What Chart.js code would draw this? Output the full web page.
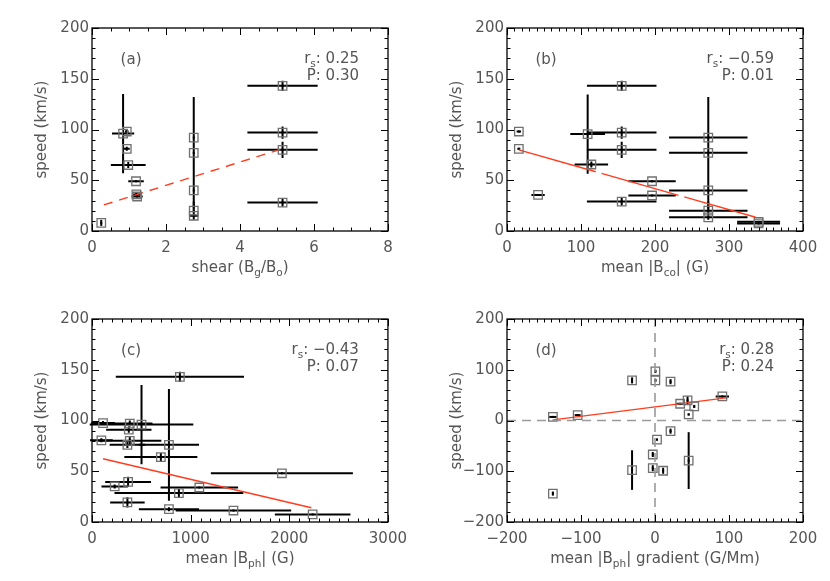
<!DOCTYPE html>
<html>
<head>
<meta charset="utf-8">
<script src="https://cdn.jsdelivr.net/npm/chart.js@4.4.1/dist/chart.umd.min.js"></script>
<style>
  body { margin: 0; background: #fff; width: 830px; height: 581px; position: relative; overflow: hidden; }
  canvas { position: absolute; }
</style>
</head>
<body>
<canvas id="panelA" width="415" height="290" style="left:0;top:0"></canvas>
<canvas id="panelB" width="415" height="290" style="left:415px;top:0"></canvas>
<canvas id="panelC" width="415" height="291" style="left:0;top:290px"></canvas>
<canvas id="panelD" width="415" height="291" style="left:415px;top:290px"></canvas>
<script>
// (a) speed vs shear
var shearX = [0.25, 0.84, 0.94, 0.94, 0.98, 1.19, 1.2, 1.22, 2.75, 2.75, 2.75, 2.75, 2.75, 5.15, 5.15, 5.15, 5.15];
var shearSpeed = [8, 96, 98, 81, 65, 49, 36, 34, 92, 77, 40, 20, 15, 143, 97, 80, 28];
var shearXErr = [0, 0.3, 0.05, 0.08, 0.47, 0.21, 0.1, 0.15, 0, 0, 0, 0, 0.12, 0.95, 0.95, 0.95, 0.95];
var shearSpeedErr = [3, 39, 2, 2, 3, 0, 2, 1, 0, 55, 0, 9, 0, 5, 6, 8, 4];
var shearFitX = [0.32, 5.14];
var shearFitY = [25.7, 81];

// (b) speed vs mean |Bco|
var bcoX = [16, 16, 42, 109, 114, 155, 155, 155, 155, 196, 196, 272, 272, 272, 272, 272, 340, 340];
var bcoSpeed = [98, 81, 35.5, 95.5, 65.5, 143, 97, 80, 29, 49, 35, 92, 77, 40, 20, 13.5, 9, 7.5];
var bcoXErr = [3, 2, 9, 23.5, 22.6, 47, 47, 47, 47, 32, 32, 53, 53, 53, 53, 53, 29, 29];
var bcoSpeedErr = [1, 1, 1, 39, 3, 5, 6, 8, 4, 0, 0, 0, 55, 0, 9, 0, 0, 0];
var bcoFitX = [16, 336];
var bcoFitY = [80, 13.5];

// (c) speed vs mean |Bph|
var bphX = [112, 95, 891, 383, 502, 373, 383, 359, 780, 698, 1925, 366, 230, 1088, 881, 359, 780, 1434, 2237];
var bphSpeed = [97.5, 80.5, 143, 97, 96, 91, 80, 76, 76, 64, 48, 39.5, 35, 34, 28.5, 19.3, 12.6, 11.3, 7.5];
var bphXErr = [120, 115, 650, 230, 525, 230, 320, 180, 305, 370, 720, 232, 134, 393, 653, 175, 305, 585, 383];
var bphSpeedErr = [2, 2, 5, 3, 39, 3, 4, 3, 55, 4, 0, 5, 2, 0, 4, 5, 2, 0, 0];
var bphFitX = [112, 2224];
var bphFitY = [62.3, 14];

// (d) speed vs mean |Bph| gradient
var gradX = [-138, -104.5, -31, 0.5, 0.5, 21, 34, 44, 53, 45.5, 91, 21, 2.7, -3, -3, 11, -31, 45.5, -138];
var gradSpeed = [7, 10.6, 79, 97, 79, 76.5, 33, 39.6, 27.7, 11.9, 47.5, -21, -37.6, -67, -94, -99, -97.7, -79, -144];
var gradXErr = [5, 4, 0, 0, 0, 0, 5, 0, 0, 0, 9, 0, 0, 0, 0, 0, 0, 0, 0];
var gradSpeedErr = [0, 0, 6, 3, 3, 5, 0, 8, 3, 2, 2, 5, 2, 5, 6, 6, 39, 56, 4];
var gradFitX = [-138, 98.6];
var gradFitY = [1.3, 45];
var zeroSpan = [-200, 200];

var FONT = '"DejaVu Sans", sans-serif';
var TEXT = "#555";

// draws text made of [string, isSubscript] pieces
function drawRich(ctx, parts, x, y, align, size) {
  var w = 0;
  parts.forEach(function (p) {
    ctx.font = (p[1] ? size * 0.7 : size) + "px " + FONT;
    w += ctx.measureText(p[0]).width;
  });
  var cx = align === "center" ? x - w / 2 : align === "right" ? x - w : x;
  ctx.textAlign = "left";
  ctx.textBaseline = "middle";
  parts.forEach(function (p) {
    ctx.font = (p[1] ? size * 0.7 : size) + "px " + FONT;
    ctx.fillText(p[0], cx, p[1] ? y + size * 0.32 : y);
    cx += ctx.measureText(p[0]).width;
  });
}

function minus(v) {
  return String(v).replace("-", "\u2212");
}

function makePanel(id, p) {
  var canvas = document.getElementById(id);
  var H = canvas.height;
  var points = p.x.map(function (x, i) { return { x: x, y: p.y[i] }; });
  var datasets = [];

  if (p.zeroLines) {
    datasets.push({
      data: [{ x: 0, y: zeroSpan[0] }, { x: 0, y: zeroSpan[1] }],
      showLine: true, borderColor: "#9a9a9a", borderWidth: 1.6, borderDash: [9, 6], pointRadius: 0
    });
    datasets.push({
      data: [{ x: zeroSpan[0], y: 0 }, { x: zeroSpan[1], y: 0 }],
      showLine: true, borderColor: "#9a9a9a", borderWidth: 1.6, borderDash: [9, 6], pointRadius: 0
    });
  }
  datasets.push({
    data: points,
    pointStyle: "rect", pointRadius: 6, pointBorderColor: "#707070", pointBorderWidth: 1.3,
    pointBackgroundColor: "rgba(0,0,0,0)"
  });
  datasets.push({
    data: p.fitX.map(function (x, i) { return { x: x, y: p.fitY[i] }; }),
    showLine: true, borderColor: "#ff3c1e", borderWidth: 1.4, borderDash: p.fitDash || [], pointRadius: 0
  });

  var panelPlugin = {
    id: "panel_" + id,
    beforeDatasetsDraw: function (chart) {
      var ctx = chart.ctx, xs = chart.scales.x, ys = chart.scales.y;
      ctx.save();
      ctx.strokeStyle = "#000";
      ctx.lineWidth = 2;
      p.x.forEach(function (x, i) {
        var px = xs.getPixelForValue(x), py = ys.getPixelForValue(p.y[i]);
        ctx.beginPath();
        if (p.xErr[i]) {
          ctx.moveTo(xs.getPixelForValue(x - p.xErr[i]), py);
          ctx.lineTo(xs.getPixelForValue(x + p.xErr[i]), py);
        }
        if (p.yErr[i]) {
          ctx.moveTo(px, ys.getPixelForValue(p.y[i] - p.yErr[i]));
          ctx.lineTo(px, ys.getPixelForValue(p.y[i] + p.yErr[i]));
        }
        ctx.stroke();
        // small centre mark
        ctx.fillStyle = "#000";
        ctx.fillRect(px - 1, py - 1, 2, 2);
      });
      ctx.restore();
    },
    afterDraw: function (chart) {
      var ctx = chart.ctx, a = chart.chartArea, xs = chart.scales.x, ys = chart.scales.y;
      var w = a.right - a.left, h = a.bottom - a.top;
      ctx.save();
      ctx.strokeStyle = "#000";
      ctx.lineWidth = 1.3;
      ctx.strokeRect(a.left, a.top, w, h);

      // inward ticks on all four sides
      ctx.lineWidth = 1;
      ctx.beginPath();
      var n = Math.round((p.xMax - p.xMin) / p.xMinor);
      for (var i = 0; i <= n; i++) {
        var v = p.xMin + i * p.xMinor;
        var major = Math.abs(v / p.xStep - Math.round(v / p.xStep)) < 1e-6;
        var len = major ? 7 : 3.5;
        var px = Math.round(xs.getPixelForValue(v)) + 0.5;
        ctx.moveTo(px, a.bottom); ctx.lineTo(px, a.bottom - len);
        ctx.moveTo(px, a.top); ctx.lineTo(px, a.top + len);
      }
      n = Math.round((p.yMax - p.yMin) / p.yMinor);
      for (i = 0; i <= n; i++) {
        v = p.yMin + i * p.yMinor;
        major = Math.abs(v / p.yStep - Math.round(v / p.yStep)) < 1e-6;
        len = major ? 7 : 3.5;
        var py = Math.round(ys.getPixelForValue(v)) + 0.5;
        ctx.moveTo(a.left, py); ctx.lineTo(a.left + len, py);
        ctx.moveTo(a.right, py); ctx.lineTo(a.right - len, py);
      }
      ctx.stroke();

      ctx.fillStyle = TEXT;
      drawRich(ctx, [[p.tag, 0]], a.left + 0.132 * w, a.top + 0.158 * h, "center", 15);
      drawRich(ctx, [["r", 0], ["s", 1], [": " + minus(p.rs), 0]], a.left + 0.902 * w, a.top + 0.153 * h, "right", 15);
      drawRich(ctx, [["P: " + p.pval, 0]], a.left + 0.902 * w, a.top + 0.236 * h, "right", 15);
      drawRich(ctx, p.xTitle, (a.left + a.right) / 2, a.bottom + 37, "center", 15);

      ctx.save();
      ctx.translate(a.left - 50, (a.top + a.bottom) / 2);
      ctx.rotate(-Math.PI / 2);
      drawRich(ctx, [["speed (km/s)", 0]], 0, 0, "center", 15);
      ctx.restore();
      ctx.restore();
    }
  };

  var tickFont = { family: FONT, size: 15 };
  new Chart(canvas, {
    type: "scatter",
    data: { datasets: datasets },
    options: {
      responsive: false,
      animation: false,
      layout: { padding: { left: 0, right: 27, top: p.top, bottom: 0 } },
      plugins: { legend: { display: false }, tooltip: { enabled: false } },
      scales: {
        x: {
          type: "linear", min: p.xMin, max: p.xMax,
          grid: { display: false, drawTicks: false },
          border: { display: false },
          ticks: { stepSize: p.xStep, autoSkip: false, maxRotation: 0, padding: 8, font: tickFont, color: TEXT, callback: minus },
          afterFit: function (s) { s.height = H - p.top - 203; }
        },
        y: {
          type: "linear", min: p.yMin, max: p.yMax,
          grid: { display: false, drawTicks: false },
          border: { display: false },
          ticks: { stepSize: p.yStep, autoSkip: false, padding: 3, font: tickFont, color: TEXT, callback: minus },
          afterFit: function (s) { s.width = 92; }
        }
      }
    },
    plugins: [panelPlugin]
  });
}

makePanel("panelA", {
  x: shearX, y: shearSpeed, xErr: shearXErr, yErr: shearSpeedErr,
  fitX: shearFitX, fitY: shearFitY, fitDash: [9, 7],
  xMin: 0, xMax: 8, xStep: 2, xMinor: 0.5,
  yMin: 0, yMax: 200, yStep: 50, yMinor: 10, top: 28,
  tag: "(a)", rs: "0.25", pval: "0.30",
  xTitle: [["shear (B", 0], ["g", 1], ["/B", 0], ["o", 1], [")", 0]]
});

makePanel("panelB", {
  x: bcoX, y: bcoSpeed, xErr: bcoXErr, yErr: bcoSpeedErr,
  fitX: bcoFitX, fitY: bcoFitY, fitDash: [80, 6],
  xMin: 0, xMax: 400, xStep: 100, xMinor: 10,
  yMin: 0, yMax: 200, yStep: 50, yMinor: 10, top: 28,
  tag: "(b)", rs: "-0.59", pval: "0.01",
  xTitle: [["mean |B", 0], ["co", 1], ["| (G)", 0]]
});

makePanel("panelC", {
  x: bphX, y: bphSpeed, xErr: bphXErr, yErr: bphSpeedErr,
  fitX: bphFitX, fitY: bphFitY,
  xMin: 0, xMax: 3000, xStep: 1000, xMinor: 100,
  yMin: 0, yMax: 200, yStep: 50, yMinor: 10, top: 29,
  tag: "(c)", rs: "-0.43", pval: "0.07",
  xTitle: [["mean |B", 0], ["ph", 1], ["| (G)", 0]]
});

makePanel("panelD", {
  x: gradX, y: gradSpeed, xErr: gradXErr, yErr: gradSpeedErr,
  fitX: gradFitX, fitY: gradFitY, zeroLines: true,
  xMin: -200, xMax: 200, xStep: 100, xMinor: 10,
  yMin: -200, yMax: 200, yStep: 100, yMinor: 20, top: 29,
  tag: "(d)", rs: "0.28", pval: "0.24",
  xTitle: [["mean |B", 0], ["ph", 1], ["| gradient (G/Mm)", 0]]
});
</script>
</body>
</html>
